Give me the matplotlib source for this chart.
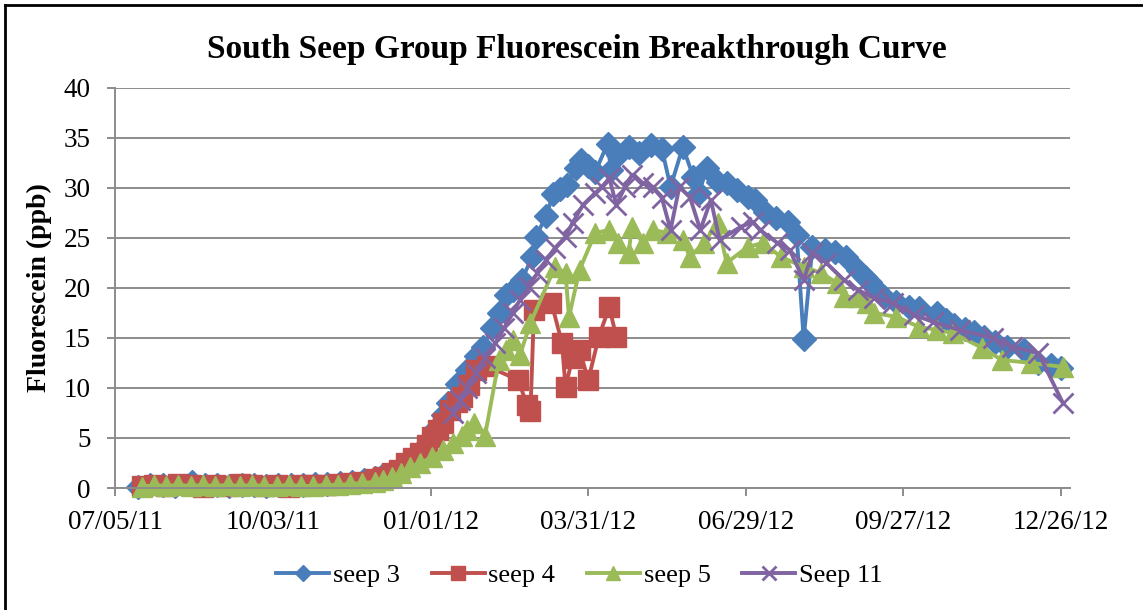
import numpy as np
import matplotlib
matplotlib.use("Agg")
import matplotlib.pyplot as plt
from matplotlib.lines import Line2D

plt.rcParams['font.family'] = ['Liberation Serif', 'DejaVu Serif']

# sample dates and fluorescein readings (ppb) for each seep
seep3_dates = [
    "2011-07-18", "2011-07-25", "2011-08-01", "2011-08-08", "2011-08-18", "2011-08-25",
    "2011-09-01", "2011-09-08", "2011-09-15", "2011-09-22", "2011-09-29", "2011-10-06",
    "2011-10-13", "2011-10-20", "2011-10-27", "2011-11-03", "2011-11-10", "2011-11-17",
    "2011-11-24", "2011-11-30", "2011-12-05", "2011-12-10", "2011-12-15", "2011-12-20",
    "2011-12-25", "2011-12-30", "2012-01-04", "2012-01-08", "2012-01-11", "2012-01-16",
    "2012-01-22", "2012-01-27", "2012-01-31", "2012-02-05", "2012-02-09", "2012-02-13",
    "2012-02-17", "2012-02-22", "2012-02-28", "2012-03-01", "2012-03-07", "2012-03-11",
    "2012-03-15", "2012-03-19", "2012-03-24", "2012-03-27", "2012-03-31", "2012-04-04",
    "2012-04-11", "2012-04-13", "2012-04-17", "2012-04-23", "2012-04-29", "2012-05-06",
    "2012-05-12", "2012-05-17", "2012-05-24", "2012-05-30", "2012-06-02", "2012-06-07",
    "2012-06-13", "2012-06-18", "2012-06-24", "2012-06-30", "2012-07-04", "2012-07-10",
    "2012-07-16", "2012-07-23", "2012-07-28", "2012-08-01", "2012-08-06", "2012-08-13",
    "2012-08-19", "2012-08-25", "2012-09-01", "2012-09-05", "2012-09-08", "2012-09-12",
    "2012-09-16", "2012-09-23", "2012-09-30", "2012-10-06", "2012-10-16", "2012-10-21",
    "2012-10-26", "2012-11-01", "2012-11-06", "2012-11-12", "2012-11-18", "2012-11-25",
    "2012-12-05", "2012-12-13", "2012-12-20", "2012-12-26",
]
seep3_vals = [
    0.1, 0.3, 0.3, 0.2, 0.6, 0.3,
    0.3, 0.2, 0.3, 0.3, 0.2, 0.3,
    0.3, 0.3, 0.4, 0.4, 0.5, 0.6,
    0.8, 1.0, 1.3, 1.6, 2.0, 2.6,
    3.3, 4.4, 6.0, 7.3, 8.5, 10.4,
    11.8, 13.2, 14.1, 16.0, 17.5, 19.3,
    19.8, 20.8, 23.1, 25.1, 27.2, 29.4,
    29.9, 30.3, 32.0, 32.8, 32.2, 31.6,
    34.4, 31.8, 33.3, 34.1, 33.5, 34.3,
    33.9, 30.1, 34.1, 31.1, 29.5, 32.0,
    30.6, 30.5, 29.8, 29.1, 28.8, 27.6,
    27.0, 26.6, 25.3, 14.9, 24.1, 23.8,
    23.6, 23.1, 21.8, 21.1, 20.6, 19.8,
    19.1, 18.6, 18.1, 18.0, 17.5, 16.8,
    16.3, 15.9, 15.6, 15.1, 14.6, 14.1,
    13.8, 12.5, 12.3, 12.0,
]

seep4_dates = [
    "2011-07-20", "2011-07-27", "2011-08-03", "2011-08-10", "2011-08-17", "2011-08-24",
    "2011-08-31", "2011-09-07", "2011-09-14", "2011-09-21", "2011-09-28", "2011-10-05",
    "2011-10-12", "2011-10-19", "2011-10-26", "2011-11-02", "2011-11-09", "2011-11-16",
    "2011-11-23", "2011-11-30", "2011-12-05", "2011-12-10", "2011-12-14", "2011-12-18",
    "2011-12-22", "2011-12-26", "2011-12-30", "2012-01-02", "2012-01-05", "2012-01-08",
    "2012-01-12", "2012-01-16", "2012-01-19", "2012-01-23", "2012-01-27", "2012-02-02",
    "2012-02-20", "2012-02-25", "2012-02-27", "2012-02-29", "2012-03-10", "2012-03-16",
    "2012-03-18", "2012-03-22", "2012-03-26", "2012-03-31", "2012-04-06", "2012-04-12",
    "2012-04-16",
]
seep4_vals = [
    0.2, 0.3, 0.2, 0.4, 0.3, 0.1,
    0.3, 0.2, 0.4, 0.3, 0.2, 0.3,
    0.1, 0.3, 0.3, 0.3, 0.4, 0.5,
    0.6, 0.9, 1.1, 1.5, 1.8, 2.5,
    3.0, 3.5, 4.3, 5.1, 5.8, 6.5,
    7.8, 8.6, 9.1, 10.3, 11.8, 12.2,
    10.8, 8.3, 7.7, 17.8, 18.5, 14.5,
    10.1, 13.0, 13.8, 10.8, 15.1, 18.1,
    15.1,
]

seep5_dates = [
    "2011-07-20", "2011-07-27", "2011-08-03", "2011-08-10", "2011-08-17", "2011-08-24",
    "2011-08-31", "2011-09-07", "2011-09-14", "2011-09-21", "2011-09-28", "2011-10-05",
    "2011-10-12", "2011-10-19", "2011-10-26", "2011-11-02", "2011-11-09", "2011-11-16",
    "2011-11-23", "2011-11-30", "2011-12-05", "2011-12-10", "2011-12-15", "2011-12-20",
    "2011-12-26", "2012-01-02", "2012-01-08", "2012-01-14", "2012-01-19", "2012-01-22",
    "2012-01-26", "2012-02-01", "2012-02-09", "2012-02-13", "2012-02-17", "2012-02-21",
    "2012-02-27", "2012-03-12", "2012-03-18", "2012-03-20", "2012-03-26", "2012-04-04",
    "2012-04-12", "2012-04-17", "2012-04-23", "2012-04-25", "2012-05-01", "2012-05-07",
    "2012-05-15", "2012-05-24", "2012-05-28", "2012-06-05", "2012-06-13", "2012-06-18",
    "2012-06-30", "2012-07-09", "2012-07-19", "2012-08-01", "2012-08-11", "2012-08-20",
    "2012-08-24", "2012-09-01", "2012-09-06", "2012-09-10", "2012-09-23", "2012-10-06",
    "2012-10-16", "2012-10-25", "2012-11-11", "2012-11-22", "2012-12-09", "2012-12-27",
]
seep5_vals = [
    0.1, 0.3, 0.2, 0.3, 0.2, 0.3,
    0.2, 0.3, 0.2, 0.3, 0.2, 0.2,
    0.3, 0.2, 0.2, 0.3, 0.3, 0.4,
    0.5, 0.6, 0.8, 1.1, 1.5, 2.1,
    2.5, 3.1, 3.8, 4.5, 5.2, 5.8,
    6.5, 5.2, 12.8, 13.8, 14.8, 13.3,
    16.5, 22.1, 21.5, 17.1, 21.8, 25.5,
    25.8, 24.5, 23.5, 26.1, 24.5, 25.8,
    25.5, 24.8, 23.1, 24.5, 26.5, 22.5,
    24.1, 24.5, 23.1, 22.1, 21.5, 20.5,
    19.1, 19.1, 18.5, 17.5, 17.1, 16.1,
    15.8, 15.5, 14.0, 12.8, 12.5, 12.1,
]

seep11_dates = [
    "2012-01-14", "2012-01-18", "2012-01-22", "2012-01-27", "2012-02-01", "2012-02-07",
    "2012-02-12", "2012-02-17", "2012-02-21", "2012-02-26", "2012-03-02", "2012-03-07",
    "2012-03-12", "2012-03-18", "2012-03-22", "2012-03-28", "2012-04-04", "2012-04-08",
    "2012-04-12", "2012-04-16", "2012-04-21", "2012-04-25", "2012-05-01", "2012-05-07",
    "2012-05-12", "2012-05-17", "2012-05-22", "2012-05-28", "2012-06-03", "2012-06-09",
    "2012-06-14", "2012-06-26", "2012-07-03", "2012-07-07", "2012-07-17", "2012-07-24",
    "2012-08-01", "2012-08-06", "2012-08-14", "2012-08-24", "2012-09-01", "2012-09-10",
    "2012-09-21", "2012-10-03", "2012-10-14", "2012-10-29", "2012-11-17", "2012-11-28",
    "2012-12-13", "2012-12-27",
]
seep11_vals = [
    7.5, 8.8, 10.0, 11.5, 13.0, 14.5,
    16.0, 17.5, 18.8, 20.1, 21.5, 22.8,
    24.0, 25.1, 26.5, 28.3, 29.5, 30.1,
    31.0, 28.3, 30.1, 31.3, 30.5, 30.1,
    29.0, 25.8, 30.1, 29.1, 25.8, 28.8,
    24.8, 26.1, 26.6, 25.8, 24.5, 23.8,
    20.8, 23.5, 22.5, 20.8, 19.8, 19.0,
    18.5, 17.3, 16.6, 15.8, 15.0, 14.1,
    13.5, 8.5,
]

tick_dates = ["2011-07-05", "2011-10-03", "2012-01-01", "2012-03-31",
              "2012-06-29", "2012-09-27", "2012-12-26"]
tick_labels = ["07/05/11", "10/03/11", "01/01/12", "03/31/12", "06/29/12", "09/27/12", "12/26/12"]


def to_dates(strs):
    return np.array(strs, dtype="datetime64[D]")


fig = plt.figure(figsize=(11.43, 6.10), dpi=100)
ax = fig.add_axes([0.101, 0.2, 0.835, 0.656])

series = [
    ("seep 3", seep3_dates, seep3_vals, "#4A7EBB", "D", 12),
    ("seep 4", seep4_dates, seep4_vals, "#C0504D", "s", 14),
    ("seep 5", seep5_dates, seep5_vals, "#9BBB59", "^", 15),
    ("Seep 11", seep11_dates, seep11_vals, "#8064A2", "x", 14),
]
# markers near zero spill below the axis line, so don't clip
for name, d, v, col, mk, ms in series:
    ax.plot(to_dates(d), v, color=col, lw=2.8, marker=mk, ms=ms,
            mfc=col, mec=col, mew=2.0 if mk == "x" else 1, label=name, clip_on=False)

ax.set_ylim(0, 40)
ax.set_yticks(np.arange(0, 41, 5))
ax.set_xlim(np.datetime64("2011-07-05"), np.datetime64("2012-12-31"))
ax.set_xticks(to_dates(tick_dates))
ax.set_xticklabels(tick_labels)

ax.grid(axis="y", color="#8c8c8c", lw=1.4)
ax.set_axisbelow(True)
for s in ["top", "right"]:
    ax.spines[s].set_visible(False)
for s in ["left", "bottom"]:
    ax.spines[s].set_color("#8c8c8c")
    ax.spines[s].set_linewidth(1.4)
ax.tick_params(axis="both", colors="#8c8c8c", labelcolor="black", labelsize=19.5,
               length=6, width=1.4)
ax.tick_params(axis="y", pad=12)
ax.tick_params(axis="x", pad=10)

ax.set_ylabel("Fluorescein (ppb)", fontsize=20, fontweight="bold")
ax.yaxis.set_label_coords(-0.066, 0.5)
fig.suptitle("South Seep Group Fluorescein Breakthrough Curve", fontsize=24,
             fontweight="bold", x=0.505, y=0.945)

ax.legend(loc="center", bbox_to_anchor=(0.507, 0.057), bbox_transform=fig.transFigure,
          ncol=4, frameon=False, fontsize=19, handlelength=2.0, handletextpad=0.15,
          columnspacing=1.2, markerscale=0.7)

# chart border along the left and top edges
fig.add_artist(Line2D([5 / 1143, 5 / 1143], [0, 1 - 5 / 610], transform=fig.transFigure,
                      color="black", lw=2))
fig.add_artist(Line2D([5 / 1143, 1], [1 - 5 / 610, 1 - 5 / 610], transform=fig.transFigure,
                      color="black", lw=2))

fig.savefig("out.png", dpi=100)
